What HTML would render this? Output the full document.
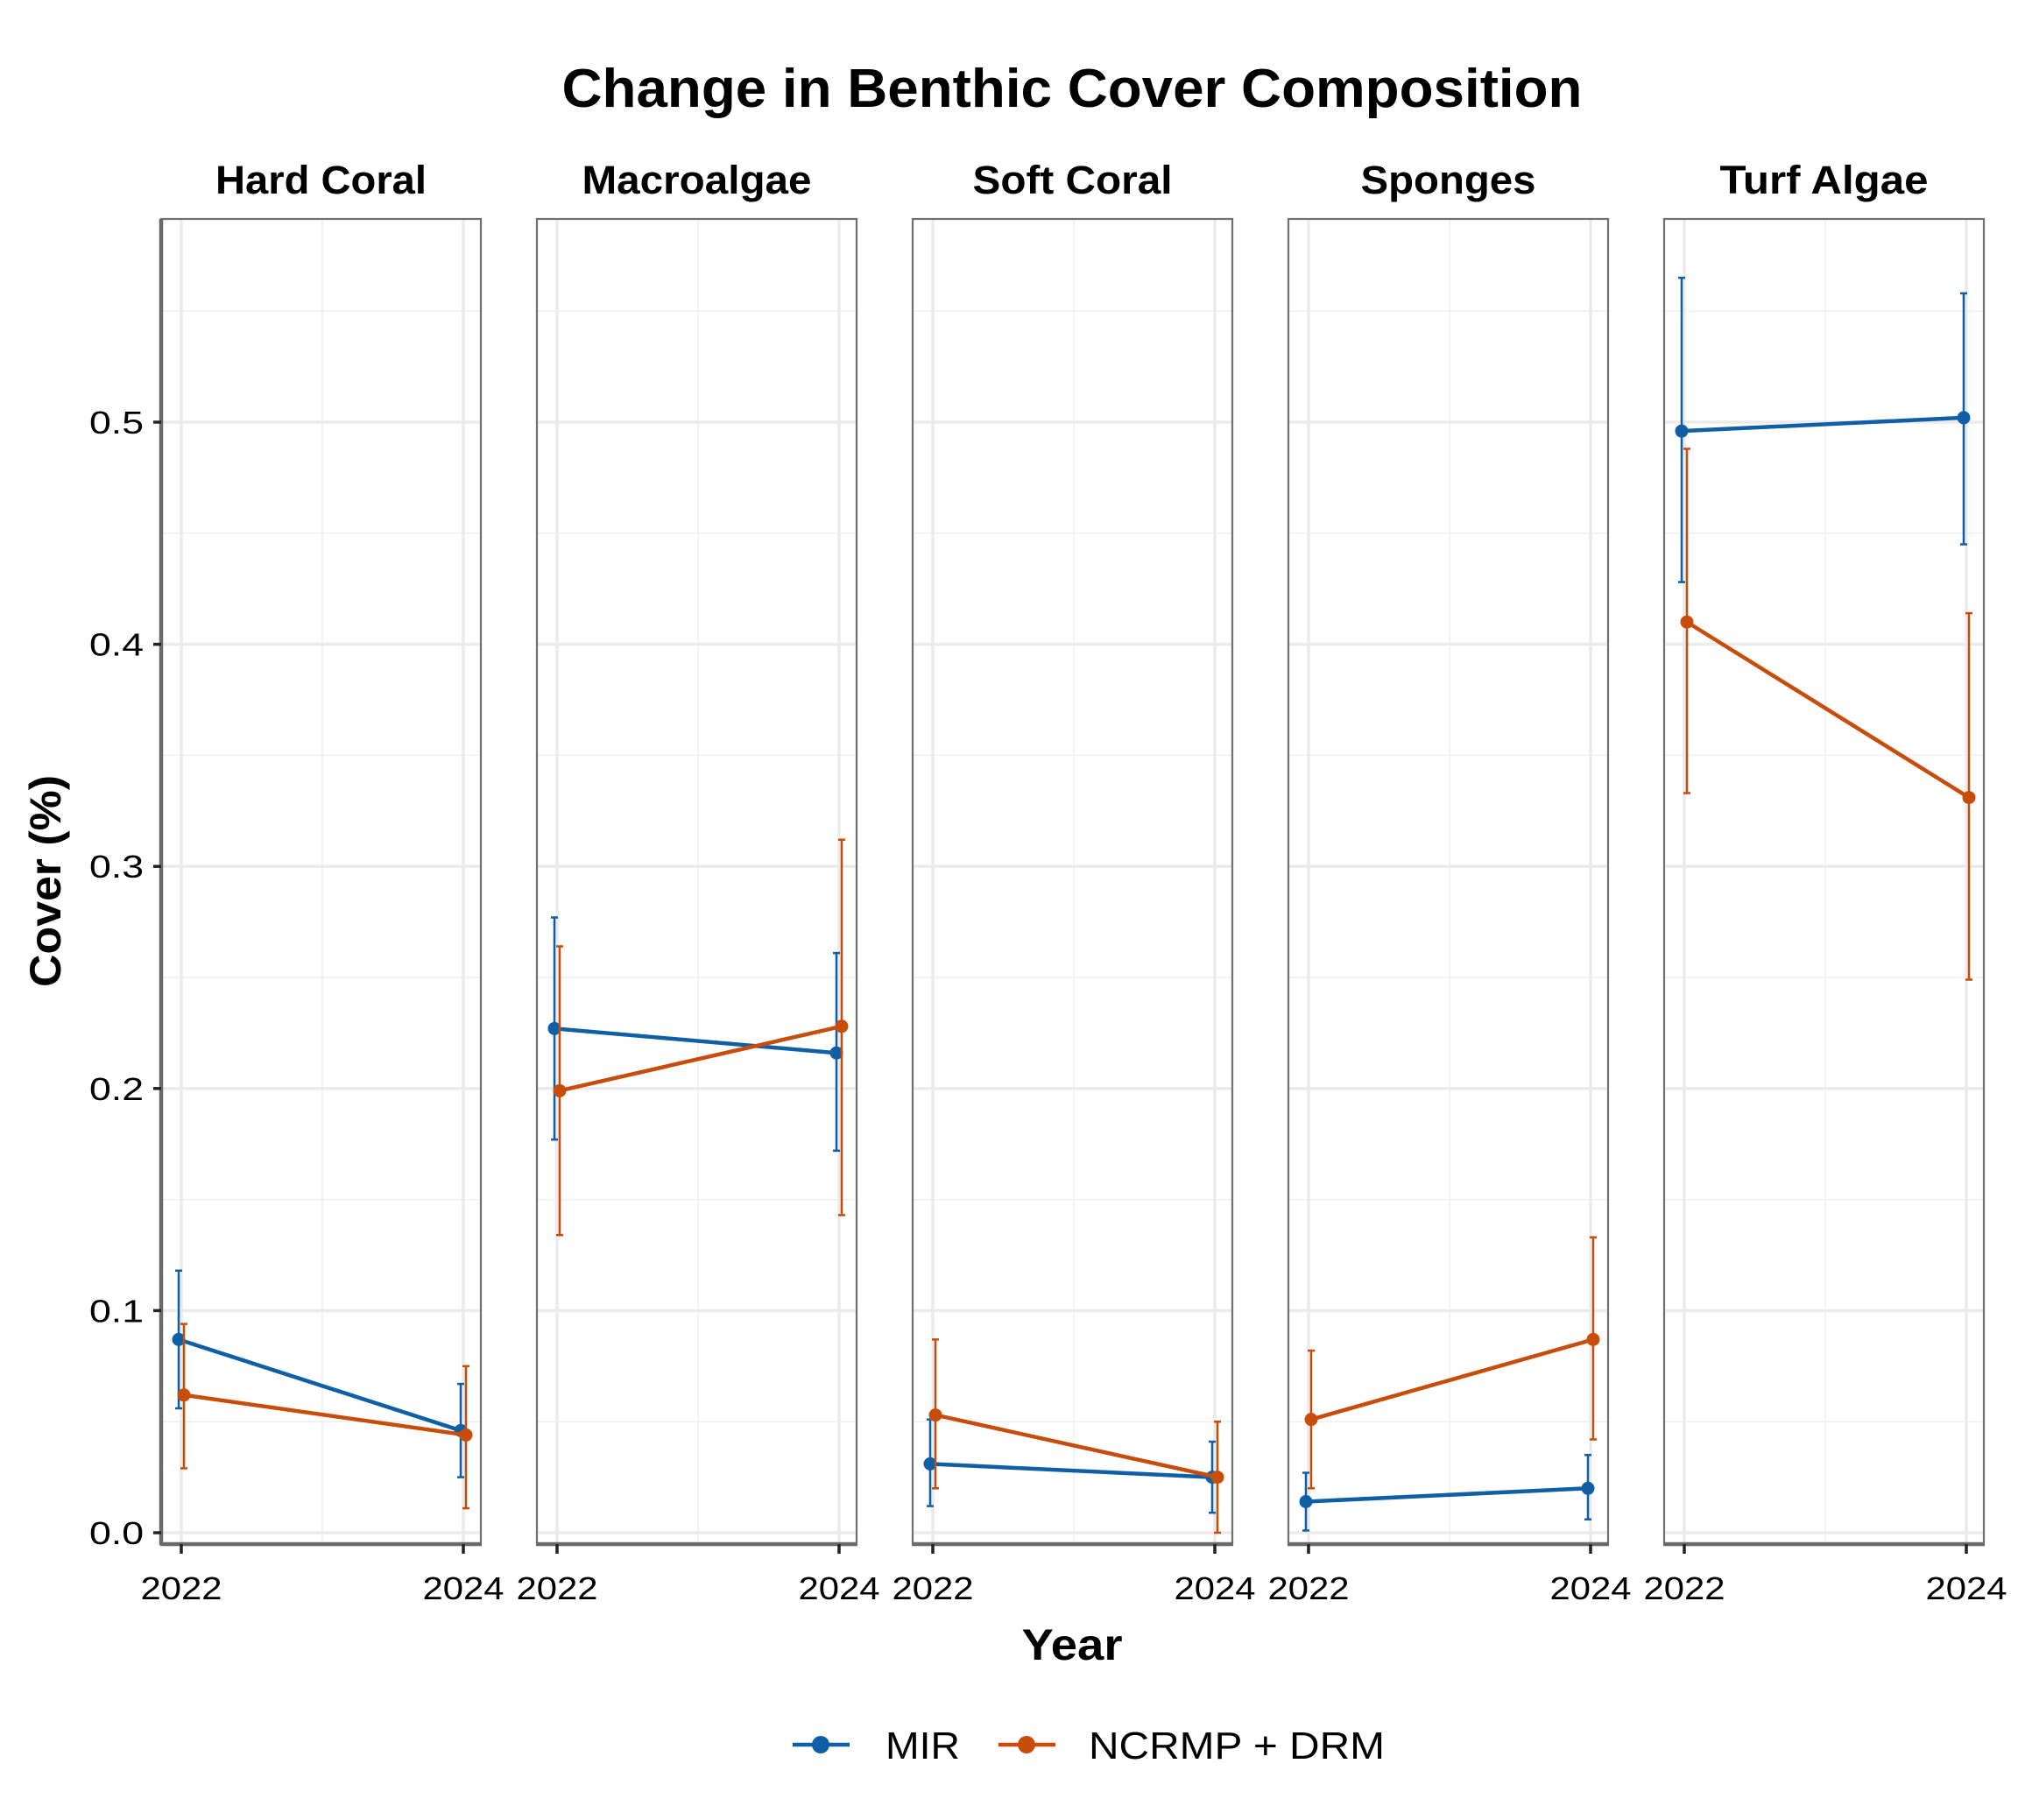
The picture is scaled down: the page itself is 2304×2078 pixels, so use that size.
<!DOCTYPE html>
<html><head><meta charset="utf-8"><style>
html,body{margin:0;padding:0;background:#fff;}
svg text{font-family:"Liberation Sans",Arial,sans-serif;}
</style></head><body>
<svg id="chart" xmlns="http://www.w3.org/2000/svg" width="2304" height="2073" viewBox="0 0 2304 2073">
<rect x="0" y="0" width="2304" height="2073" fill="#fff"/>
<text x="1224" y="122" font-size="62" font-weight="bold" text-anchor="middle" textLength="1165" lengthAdjust="spacingAndGlyphs">Change in Benthic Cover Composition</text>
<text x="1224" y="1895" font-size="50" font-weight="bold" text-anchor="middle" textLength="115" lengthAdjust="spacingAndGlyphs">Year</text>
<text transform="translate(69,1006) rotate(-90)" font-size="50" font-weight="bold" text-anchor="middle" textLength="242" lengthAdjust="spacingAndGlyphs">Cover (%)</text>
<g id="panels"></g>
<g>
  <g>
    <line x1="905" y1="1992" x2="970" y2="1992" stroke="#0f5fa6" stroke-width="4.5"/>
    <circle cx="937" cy="1992" r="10" fill="#0f5fa6"/>
    <text x="1011" y="2008" font-size="44" textLength="85" lengthAdjust="spacingAndGlyphs">MIR</text>
  </g>
  <g>
    <line x1="1140" y1="1992" x2="1205" y2="1992" stroke="#c84c0a" stroke-width="4.5"/>
    <circle cx="1172" cy="1992" r="10" fill="#c84c0a"/>
    <text x="1243" y="2008" font-size="44" textLength="338" lengthAdjust="spacingAndGlyphs">NCRMP + DRM</text>
  </g>
</g>
</svg>
<script>
const categories = ["Hard Coral","Macroalgae","Soft Coral","Sponges","Turf Algae"];
const years = [2022, 2024];
const mirMean = [[0.087,0.046],[0.227,0.216],[0.031,0.025],[0.014,0.020],[0.496,0.502]];
const mirLow  = [[0.056,0.025],[0.177,0.172],[0.012,0.009],[0.001,0.006],[0.428,0.445]];
const mirHigh = [[0.118,0.067],[0.277,0.261],[0.051,0.041],[0.027,0.035],[0.565,0.558]];
const ncMean = [[0.062,0.044],[0.199,0.228],[0.053,0.025],[0.051,0.087],[0.410,0.331]];
const ncLow  = [[0.029,0.011],[0.134,0.143],[0.020,0.000],[0.020,0.042],[0.333,0.249]];
const ncHigh = [[0.094,0.075],[0.264,0.312],[0.087,0.050],[0.082,0.133],[0.488,0.414]];
const yTicks = [0,0.1,0.2,0.3,0.4,0.5];
const yTickLabels = ["0.0","0.1","0.2","0.3","0.4","0.5"];
const yMinor = [0.05,0.15,0.25,0.35,0.45,0.55];

const NS="http://www.w3.org/2000/svg";
const g=document.getElementById('panels');
const top0=250, bot0=1763, pW=365, pitch=429, left0=184;
function y(v){return 1750 - v*2536;}
function mk(tag,attrs,parent){const e=document.createElementNS(NS,tag);for(const k in attrs)e.setAttribute(k,attrs[k]);(parent||g).appendChild(e);return e;}
const BLUE="#0f5fa6", ORANGE="#c84c0a";
const stripWidths=[241,262,228,200,238];

categories.forEach((cat,i)=>{
  const L=left0+i*pitch, R=L+pW;
  function x(yr){return L+23+(yr-2022)/2*322;}
  const pg=mk('g',{});
  
  
  const st=mk('text',{x:(L+R)/2,y:221,'font-size':45,'font-weight':'bold','text-anchor':'middle',textLength:stripWidths[i],lengthAdjust:'spacingAndGlyphs'},pg);
  st.textContent=cat;
  
  
  yMinor.forEach(v=>mk('line',{x1:L,x2:R,y1:y(v),y2:y(v),stroke:'#efefef','stroke-width':1.5},pg));
  mk('line',{x1:x(2023),x2:x(2023),y1:top0,y2:bot0,stroke:'#efefef','stroke-width':1.5},pg);
  yTicks.forEach(v=>mk('line',{x1:L,x2:R,y1:y(v),y2:y(v),stroke:'#ebebeb','stroke-width':3.5},pg));
  years.forEach(yr=>mk('line',{x1:x(yr),x2:x(yr),y1:top0,y2:bot0,stroke:'#ebebeb','stroke-width':3.5},pg));
  mk('rect',{x:L,y:top0,width:pW,height:bot0-top0,fill:'none',stroke:'#707070','stroke-width':2.2},pg);
  mk('line',{x1:L-1,x2:R+1,y1:bot0,y2:bot0,stroke:'#6a6a6a','stroke-width':4.5},pg);
  if(i===0){
    mk('line',{x1:L,x2:L,y1:top0,y2:bot0+1,stroke:'#6a6a6a','stroke-width':4.5},pg);
    yTicks.forEach((v,k)=>{
      mk('line',{x1:L-9,x2:L,y1:y(v),y2:y(v),stroke:'#222','stroke-width':3.5},pg);
      const t=mk('text',{x:L-20,y:y(v)+13,'font-size':36,'text-anchor':'end',textLength:62,lengthAdjust:'spacingAndGlyphs'},pg);
      t.textContent=yTickLabels[k];
      
      
    });
  }
  years.forEach(yr=>{
    mk('line',{x1:x(yr),x2:x(yr),y1:bot0,y2:bot0+11,stroke:'#222','stroke-width':3.5},pg);
    const t=mk('text',{x:x(yr),y:1826,'font-size':36,'text-anchor':'middle',textLength:93,lengthAdjust:'spacingAndGlyphs'},pg);
    t.textContent=yr;
    
    
  });
  [[mirMean,mirLow,mirHigh,BLUE,-3,'mir'],[ncMean,ncLow,ncHigh,ORANGE,3,'ncrmp-drm']].forEach(([M,Lo,Hi,col,dx,nm])=>{
    const sg=mk('g',{},pg);
    
    
    years.forEach((yr,j)=>{
      const cx=x(yr)+dx;
      const eb=mk('g',{},sg);
      
      
      mk('line',{x1:cx,x2:cx,y1:y(Lo[i][j]),y2:y(Hi[i][j]),stroke:col,'stroke-width':2.5},eb);
      mk('line',{x1:cx-4,x2:cx+4,y1:y(Lo[i][j]),y2:y(Lo[i][j]),stroke:col,'stroke-width':2.5},eb);
      mk('line',{x1:cx-4,x2:cx+4,y1:y(Hi[i][j]),y2:y(Hi[i][j]),stroke:col,'stroke-width':2.5},eb);
    });
    const ln=mk('line',{x1:x(2022)+dx,y1:y(M[i][0]),x2:x(2024)+dx,y2:y(M[i][1]),stroke:col,'stroke-width':4.5},sg);
    
    
    years.forEach((yr,j)=>{
      const c=mk('circle',{cx:x(yr)+dx,cy:y(M[i][j]),r:7.5,fill:col},sg);
      
      
    });
  });
});
</script>
</body></html>
